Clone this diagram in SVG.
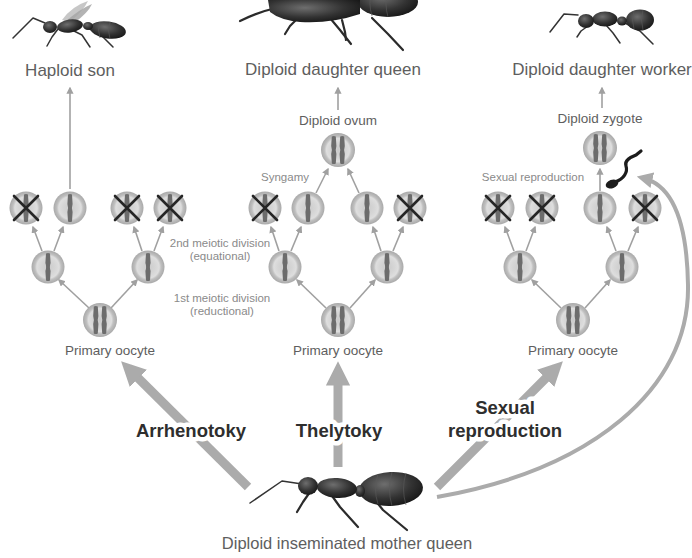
<svg xmlns="http://www.w3.org/2000/svg" xmlns:xlink="http://www.w3.org/1999/xlink" width="692" height="558" viewBox="0 0 692 558">
  <style>
    .lbl { font-family: "Liberation Sans", Arial, sans-serif; fill: #5e5e5e; text-anchor: middle; }
    .top { font-size: 17px; }
    .mid { font-size: 13.5px; }
    .note { font-size: 11.5px; fill: #8a8a8a; }
    .big { font-family: "Liberation Sans", Arial, sans-serif; font-weight: bold; font-size: 18.5px; fill: #2e2e2e; text-anchor: middle;
           stroke: #ffffff; stroke-width: 9px; stroke-linejoin: round; paint-order: stroke; }
    .thin { fill: none; stroke: #a0a0a0; stroke-width: 1.6; marker-end: url(#smallHead); }
    .thick { fill: none; stroke: #ababab; stroke-width: 9; marker-end: url(#bigHead); }
    .curve { fill: none; stroke: #ababab; stroke-width: 4; marker-end: url(#curveHead); }
    .cross { stroke: #262626; stroke-width: 2.6; stroke-linecap: round; }
    .chrom { fill: #6c6c6c; }
    .body { fill: url(#antShade); }
    .seg { fill: none; stroke: #5a5a5a; stroke-width: 0.8; opacity: 0.8; }
    .leg { fill: none; stroke: #2b2b2b; stroke-width: 2.2; stroke-linecap: round; stroke-linejoin: round; }
    .legThin { fill: none; stroke: #333333; stroke-width: 1.5; stroke-linecap: round; stroke-linejoin: round; }
  </style>
  <defs>
    <radialGradient id="cellFill" cx="50%" cy="50%" r="50%">
      <stop offset="0%" stop-color="#cbcbcb"/>
      <stop offset="45%" stop-color="#d6d6d6"/>
      <stop offset="68%" stop-color="#dedede"/>
      <stop offset="80%" stop-color="#bfbfbf"/>
      <stop offset="100%" stop-color="#a9a9a9"/>
    </radialGradient>
    <radialGradient id="antShade" cx="40%" cy="35%" r="70%">
      <stop offset="0%" stop-color="#6e6e6e"/>
      <stop offset="60%" stop-color="#333333"/>
      <stop offset="100%" stop-color="#161616"/>
    </radialGradient>
    <marker id="smallHead" viewBox="0 0 10 10" refX="8" refY="5" markerWidth="4.5" markerHeight="4.5" orient="auto" markerUnits="strokeWidth">
      <path d="M0,0 L10,5 L0,10 Z" fill="#a0a0a0"/>
    </marker>
    <marker id="bigHead" viewBox="0 0 10 10" refX="6" refY="5" markerWidth="2.7" markerHeight="2.7" orient="auto" markerUnits="strokeWidth">
      <path d="M0,0 L10,5 L0,10 Z" fill="#ababab"/>
    </marker>
    <marker id="curveHead" viewBox="0 0 10 10" refX="6" refY="5" markerWidth="4" markerHeight="4" orient="auto" markerUnits="strokeWidth">
      <path d="M0,0 L10,5 L0,10 Z" fill="#ababab"/>
    </marker>
    <!-- one chromosome, slightly pinched at the centromere -->
    <path id="chromo" class="chrom" d="M-2,-13.5 Q0,-14.5 2,-13.5 L2.6,-4 Q1.2,0 2.6,4 L2,13.5 Q0,14.5 -2,13.5 L-2.6,4 Q-1.2,0 -2.6,-4 Z"/>
    <!-- cell with one chromosome -->
    <g id="cellOne">
      <circle r="16.5" fill="url(#cellFill)"/>
      <use xlink:href="#chromo"/>
    </g>
    <!-- cell with a chromosome pair -->
    <g id="cellTwo">
      <circle r="17" fill="url(#cellFill)"/>
      <use xlink:href="#chromo" x="-4.2"/>
      <use xlink:href="#chromo" x="4.2"/>
    </g>
    <!-- discarded cell -->
    <g id="cellDead">
      <use xlink:href="#cellOne"/>
      <path class="cross" d="M-12,-12 L12,12 M12,-12 L-12,12"/>
    </g>
  </defs>

  <rect width="692" height="558" fill="#ffffff"/>

  <!-- connectors -->
  <g id="connectors">
    <!-- arrhenotoky branch -->
    <path class="thin" d="M89,308 L59,280"/>
    <path class="thin" d="M111,308 L137,280"/>
    <path class="thin" d="M42,251 L33,227"/>
    <path class="thin" d="M54,251 L63,227"/>
    <path class="thin" d="M142,251 L134,227"/>
    <path class="thin" d="M154,251 L163,227"/>
    <path class="thin" d="M70,189 L70,88"/>
    <!-- thelytoky branch -->
    <path class="thin" d="M326,308 L297,280"/>
    <path class="thin" d="M350,308 L375,280"/>
    <path class="thin" d="M279,251 L271,227"/>
    <path class="thin" d="M291,251 L301,227"/>
    <path class="thin" d="M381,251 L373,227"/>
    <path class="thin" d="M393,251 L403,227"/>
    <path class="thin" d="M316,193 L328,169"/>
    <path class="thin" d="M359,193 L348,169"/>
    <path class="thin" d="M338,110 L338,88"/>
    <!-- sexual branch -->
    <path class="thin" d="M561,308 L532,280"/>
    <path class="thin" d="M585,308 L610,280"/>
    <path class="thin" d="M514,251 L505,227"/>
    <path class="thin" d="M526,251 L535,227"/>
    <path class="thin" d="M616,251 L607,227"/>
    <path class="thin" d="M628,251 L638,227"/>
    <path class="thin" d="M600,191 L600,169"/>
    <path class="thin" d="M602,108 L602,88"/>
    <!-- main routes from the mother queen -->
    <path class="thick" d="M248,487 L128,368"/>
    <path class="thick" d="M338,467 L338,371"/>
    <path class="thick" d="M437,487 L556,368"/>
    <path class="curve" d="M437,497 C590,470 690,390 688,285 C687,220 672,185 643,178"/>
  </g>

  <!-- arrhenotoky column -->
  <g id="arrhenotoky-cells">
    <use xlink:href="#cellDead" x="26" y="208"/>
    <use xlink:href="#cellOne" x="70" y="208"/>
    <use xlink:href="#cellDead" x="127" y="208"/>
    <use xlink:href="#cellDead" x="170" y="208"/>
    <use xlink:href="#cellOne" x="48" y="267"/>
    <use xlink:href="#cellOne" x="148" y="267"/>
    <use xlink:href="#cellTwo" x="100" y="320"/>
    <text class="lbl mid" x="110" y="355">Primary oocyte</text>
  </g>

  <!-- thelytoky column -->
  <g id="thelytoky-cells">
    <use xlink:href="#cellTwo" x="338" y="150"/>
    <text class="lbl mid" x="338" y="125">Diploid ovum</text>
    <text class="lbl note" x="285" y="181">Syngamy</text>
    <use xlink:href="#cellDead" x="265" y="208"/>
    <use xlink:href="#cellOne" x="308" y="208"/>
    <use xlink:href="#cellOne" x="367" y="208"/>
    <use xlink:href="#cellDead" x="410" y="208"/>
    <use xlink:href="#cellOne" x="285" y="267"/>
    <use xlink:href="#cellOne" x="387" y="267"/>
    <use xlink:href="#cellTwo" x="338" y="320"/>
    <text class="lbl mid" x="338" y="355">Primary oocyte</text>
  </g>

  <!-- meiosis notes -->
  <g id="meiosis-notes">
    <text class="lbl note" x="220" y="247">2nd meiotic division</text>
    <text class="lbl note" x="220" y="260">(equational)</text>
    <text class="lbl note" x="222" y="302">1st meiotic division</text>
    <text class="lbl note" x="222" y="315">(reductional)</text>
  </g>

  <!-- sexual reproduction column -->
  <g id="sexual-cells">
    <use xlink:href="#cellTwo" x="600" y="148"/>
    <text class="lbl mid" x="600" y="123">Diploid zygote</text>
    <text class="lbl note" x="533" y="181">Sexual reproduction</text>
    <use xlink:href="#cellDead" x="498" y="208"/>
    <use xlink:href="#cellDead" x="542" y="208"/>
    <use xlink:href="#cellOne" x="600" y="208"/>
    <use xlink:href="#cellDead" x="645" y="208"/>
    <use xlink:href="#cellOne" x="520" y="267"/>
    <use xlink:href="#cellOne" x="622" y="267"/>
    <use xlink:href="#cellTwo" x="573" y="320"/>
    <text class="lbl mid" x="573" y="355">Primary oocyte</text>
  </g>

  <!-- sperm -->
  <g id="sperm">
    <path d="M615,182 C624,179 628,172 626,166 C624,160 631,157 636,155 L641,151" fill="none" stroke="#1c1c1c" stroke-width="3.2" stroke-linecap="round"/>
    <ellipse cx="612" cy="184" rx="6.5" ry="4.2" transform="rotate(-20 612 184)" fill="#1c1c1c"/>
  </g>

  <!-- route labels -->
  <g id="route-labels">
    <text class="big" x="191" y="437">Arrhenotoky</text>
    <text class="big" x="339" y="437">Thelytoky</text>
    <text class="big" x="505" y="414">Sexual</text>
    <text class="big" x="505" y="437">reproduction</text>
  </g>

  <!-- haploid son (winged male) -->
  <g id="haploid-son">
    <path d="M62,20 Q72,6 88,1 Q84,10 70,22 Z" fill="#bdbdbd" opacity="0.85"/>
    <path d="M66,21 Q80,9 92,4 Q88,13 74,23 Z" fill="#a6a6a6" opacity="0.85"/>
    <path class="legThin" d="M45,23 L33,18 L13,38"/>
    <path class="legThin" d="M58,29 L52,37 L47,46"/>
    <path class="legThin" d="M72,30 L82,35 L90,47"/>
    <path class="legThin" d="M88,28 L102,36 L113,47"/>
    <ellipse class="body" cx="108" cy="30" rx="18" ry="8.5" transform="rotate(8 108 30)"/>
    <path class="seg" d="M100,22 Q97,30 100,38 M110,22 Q107,30 110,39"/>
    <ellipse class="body" cx="88" cy="26" rx="5" ry="4"/>
    <ellipse class="body" cx="70" cy="26" rx="13" ry="6.5" transform="rotate(-8 70 26)"/>
    <ellipse class="body" cx="50" cy="27" rx="7" ry="6"/>
    <text class="lbl top" x="70" y="76">Haploid son</text>
  </g>

  <!-- diploid daughter queen (partly above the frame) -->
  <g id="daughter-queen">
    <path class="leg" d="M276,8 Q258,12 240,21"/>
    <path class="leg" d="M298,18 L290,26 L285,34"/>
    <path class="leg" d="M330,18 L340,30 L351,44"/>
    <path class="leg" d="M342,20 L345,32 L346,40"/>
    <path class="leg" d="M372,18 L388,34 L403,50"/>
    <ellipse class="body" cx="388" cy="2" rx="30" ry="15"/>
    <path class="seg" d="M372,-10 Q368,4 372,16 M388,-12 Q384,4 388,17"/>
    <path class="body" d="M268,0 L360,0 L360,14 Q330,24 300,22 Q280,20 270,12 Z"/>
    <text class="lbl top" x="333" y="75">Diploid daughter queen</text>
  </g>

  <!-- diploid daughter worker -->
  <g id="daughter-worker">
    <path class="legThin" d="M578,15 L564,14 L550,32"/>
    <path class="legThin" d="M588,26 L581,31 L577,37"/>
    <path class="legThin" d="M606,25 L613,33 L620,43"/>
    <path class="legThin" d="M625,23 L640,31 L653,44"/>
    <ellipse class="body" cx="640" cy="20" rx="14" ry="10.5"/>
    <path class="seg" d="M634,11 Q631,20 634,29 M643,10 Q640,20 643,30"/>
    <ellipse class="body" cx="622" cy="21" rx="5" ry="4.5"/>
    <ellipse class="body" cx="605" cy="19" rx="12.5" ry="7.5"/>
    <ellipse class="body" cx="586" cy="21" rx="8" ry="7"/>
    <text class="lbl top" x="602" y="75">Diploid daughter worker</text>
  </g>

  <!-- diploid inseminated mother queen -->
  <g id="mother-queen">
    <path class="legThin" d="M302,484 L282,481 L250,503"/>
    <path class="leg" d="M310,492 L303,502 L297,512"/>
    <path class="leg" d="M330,493 L340,507 L358,527"/>
    <path class="leg" d="M370,494 L383,510 L407,530"/>
    <ellipse class="body" cx="391" cy="489" rx="32" ry="17" transform="rotate(-3 391 489)"/>
    <path class="seg" d="M378,474 Q373,489 378,504 M392,472 Q387,489 392,506 M406,473 Q401,489 406,505"/>
    <ellipse class="body" cx="360" cy="491" rx="5" ry="6"/>
    <ellipse class="body" cx="337" cy="488" rx="20" ry="10" transform="rotate(4 337 488)"/>
    <ellipse class="body" cx="308" cy="486" rx="10" ry="9"/>
    <text class="lbl top" x="347" y="549" style="font-size:16.5px">Diploid inseminated mother queen</text>
  </g>
</svg>
